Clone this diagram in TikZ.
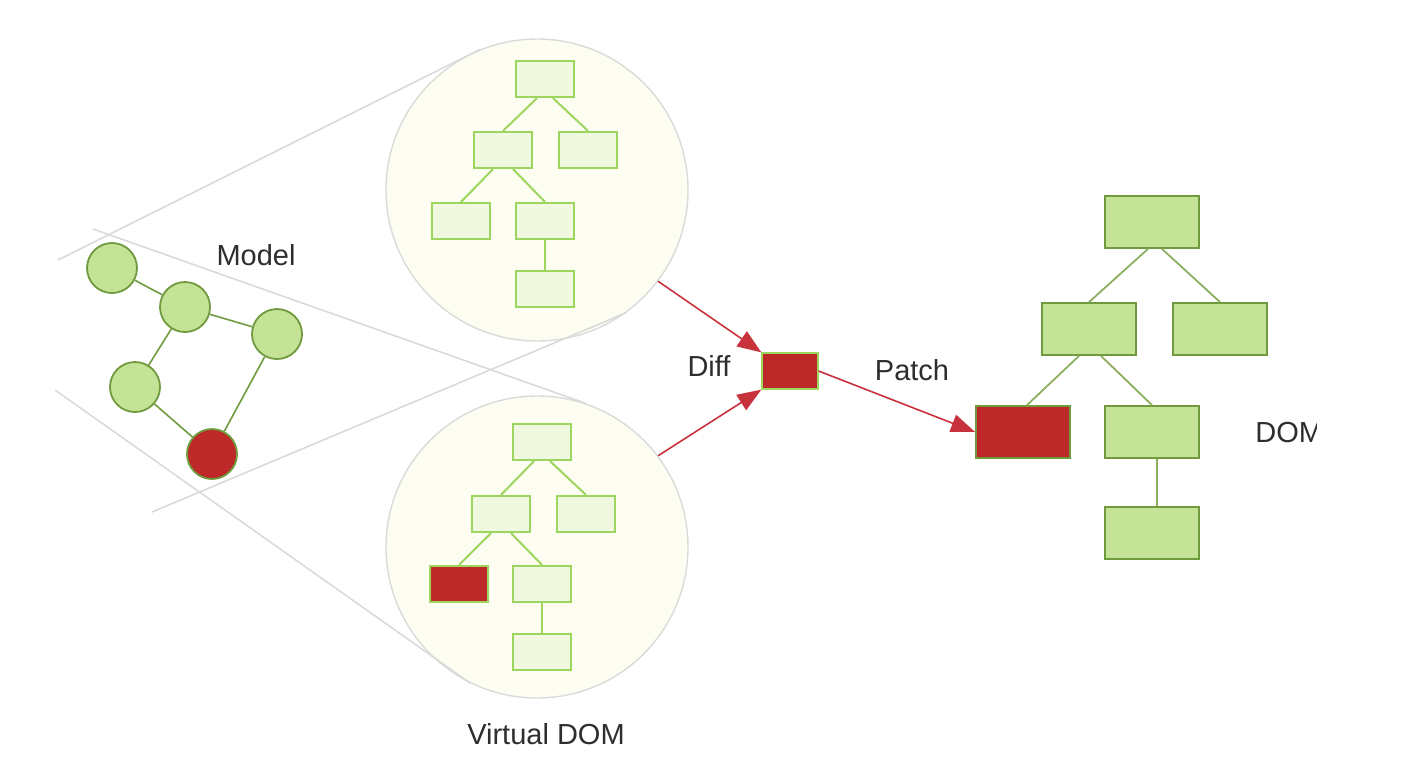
\documentclass[tikz,border=0pt]{standalone}
\usepackage{fontspec}
\setmainfont{Liberation Sans}
\usetikzlibrary{arrows.meta,positioning}
\definecolor{leafgreen}{HTML}{C5E397}
\definecolor{leafedge}{HTML}{6F9A3E}
\definecolor{olivewire}{HTML}{8CAE5E}
\definecolor{paleleaf}{HTML}{F0F9E0}
\definecolor{brightedge}{HTML}{9DD65E}
\definecolor{bubblefill}{HTML}{FDFDF1}
\definecolor{bubbleedge}{HTML}{DADADA}
\definecolor{hotred}{HTML}{BD2828}
\definecolor{arrowred}{HTML}{C8323C}
\definecolor{textgray}{HTML}{2E2E2E}

\begin{document}
\begin{tikzpicture}[x=0.5pt,y=-0.5pt,
  modelnode/.style={circle,draw=leafedge,fill=leafgreen,line width=0.9pt,minimum size=25pt,inner sep=0pt},
  vbox/.style={rectangle,draw=brightedge,fill=paleleaf,line width=1.1pt,minimum width=29pt,minimum height=18pt,inner sep=0pt},
  dombox/.style={rectangle,draw=leafedge,fill=leafgreen,line width=0.9pt,minimum width=47pt,minimum height=26pt,inner sep=0pt},
  bubble/.style={circle,draw=bubbleedge,fill=bubblefill,line width=0.7pt,minimum size=151pt,inner sep=0pt},
  txt/.style={text=textgray,font=\fontsize{14.5}{17}\selectfont,inner sep=0pt},
  lens/.style={draw=bubbleedge,line width=0.8pt},
  redarrow/.style={draw=arrowred,line width=0.8pt,-{Triangle[length=12pt,width=9pt]}}]
\useasboundingbox (0,0) rectangle (1412,778);

\coordinate (A) at (58,260);
\coordinate (B) at (93,229);
\coordinate (C) at (152,512);
\coordinate (D) at (55,390);

\node[bubble] (vtop) at (537,190) {};
\node[bubble] (vbot) at (537,547) {};

\draw[lens] (A) -- (vtop.112);
\draw[lens] (B) -- (vbot.71);
\draw[lens] (C) -- (vtop.-54);
\draw[lens] (D) -- (vbot.244);

\node[modelnode] (m1) at (112,268) {};
\node[modelnode] (m2) at (185,307) {};
\node[modelnode] (m3) at (277,334) {};
\node[modelnode] (m4) at (135,387) {};
\node[modelnode,fill=hotred] (m5) at (212,454) {};
\draw[leafedge,line width=0.8pt] (m1) -- (m2) -- (m3) -- (m5) -- (m4) -- (m2);
\node[txt] (model) at (256,255) {Model};

\node[vbox] (t1) at (545,79) {};
\node[vbox] (t2) at (503,150) {};
\node[vbox] (t3) at (588,150) {};
\node[vbox] (t4) at (461,221) {};
\node[vbox] (t5) at (545,221) {};
\node[vbox] (t6) at (545,289) {};
\draw[brightedge,line width=1pt] ([xshift=-4pt]t1.south) -- (t2.north);
\draw[brightedge,line width=1pt] ([xshift=4pt]t1.south) -- (t3.north);
\draw[brightedge,line width=1pt] ([xshift=-5pt]t2.south) -- (t4.north);
\draw[brightedge,line width=1pt] ([xshift=5pt]t2.south) -- (t5.north);
\draw[brightedge,line width=1.3pt] (t5.south) -- (t6.north);

\node[vbox] (b1) at (542,442) {};
\node[vbox] (b2) at (501,514) {};
\node[vbox] (b3) at (586,514) {};
\node[vbox,fill=hotred] (b4) at (459,584) {};
\node[vbox] (b5) at (542,584) {};
\node[vbox] (b6) at (542,652) {};
\draw[brightedge,line width=1pt] ([xshift=-4pt]b1.south) -- (b2.north);
\draw[brightedge,line width=1pt] ([xshift=4pt]b1.south) -- (b3.north);
\draw[brightedge,line width=1pt] ([xshift=-5pt]b2.south) -- (b4.north);
\draw[brightedge,line width=1pt] ([xshift=5pt]b2.south) -- (b5.north);
\draw[brightedge,line width=1.3pt] (b5.south) -- (b6.north);
\node[txt] (vdom) at (546,734) {Virtual DOM};

\node[rectangle,draw=brightedge,fill=hotred,line width=0.6pt,minimum width=28pt,minimum height=18pt,inner sep=0pt] (diff) at (790,371) {};
\node[txt] (difftxt) at (709,366) {Diff};
\node[txt] (patchtxt) at (912,370) {Patch};

\node[dombox] (d1) at (1152,222) {};
\node[dombox] (d2) at (1089,329) {};
\node[dombox] (d3) at (1220,329) {};
\node[dombox,fill=hotred] (d4) at (1023,432) {};
\node[dombox] (d5) at (1152,432) {};
\node[dombox] (d6) at (1152,533) {};
\draw[olivewire,line width=0.9pt] ([xshift=-2pt]d1.south) -- (d2.north);
\draw[olivewire,line width=0.9pt] ([xshift=5pt]d1.south) -- (d3.north);
\draw[olivewire,line width=0.9pt] ([xshift=-5pt]d2.south) -- ([xshift=2pt]d4.north);
\draw[olivewire,line width=0.9pt] ([xshift=6pt]d2.south) -- (d5.north);
\draw[olivewire,line width=1.2pt] ([xshift=2.5pt]d5.south) -- ([xshift=2.5pt]d6.north);

\begin{scope}
\clip (1200,400) rectangle (1316,470);
\node[txt,anchor=west] (domtxt) at (1255,433) {DOM};
\end{scope}

\draw[redarrow] (vtop.-37) -- (diff.north west);
\draw[redarrow] (vbot.37) -- (diff.south west);
\draw[redarrow] (diff.east) -- (d4.west);
\end{tikzpicture}
\end{document}
